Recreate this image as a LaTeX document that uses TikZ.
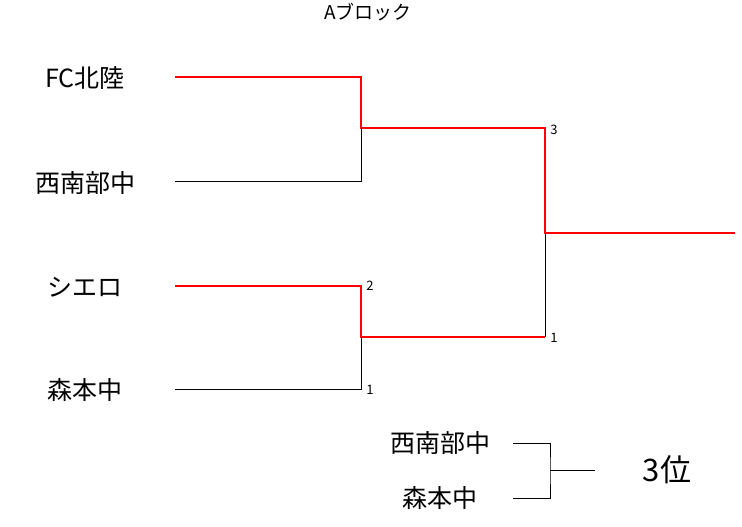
\documentclass[tikz,border=0pt]{standalone}
\usepackage{fontspec}
\setmainfont{Noto Sans CJK JP}
\begin{document}
\begin{tikzpicture}[x=1pt,y=-1pt,thick,
  team/.style={font=\fontsize{25}{27}\selectfont},
  seed/.style={font=\fontsize{13}{14}\selectfont,anchor=west,inner sep=1pt},
  win/.style={red,line width=2.5pt},
  lose/.style={black,line width=0.9pt}]
\useasboundingbox (0,0) rectangle (742,527);

\node (title) at (368,12) {\fontsize{19}{21}\selectfont Aブロック};
\node[team] (t1) at (85,78) {FC北陸};
\node[team] (t2) at (85,183) {西南部中};
\node[team] (t3) at (85,287) {シエロ};
\node[team] (t4) at (85,390) {森本中};

\coordinate (a1) at (175,77);
\coordinate (a2) at (175,181);
\coordinate (a3) at (175,286);
\coordinate (a4) at (175,389);
\coordinate (m1) at (361,128);
\coordinate (m2) at (361,337);
\coordinate (f1) at (545,128);
\coordinate (f2) at (545,337);
\coordinate (c) at (545,233);
\coordinate (w) at (735,233);

\draw[win] (a1) -| (m1) -- (f1) -- (c) -- (w);
\draw[lose] (a2) -| (m1);
\draw[win] (a3) -| (m2) -- (f2);
\draw[lose] (a4) -| (m2);
\draw[lose] (f2) -- (c);

\node[seed] (s3) at (549,130) {3};
\node[seed] (s2) at (365,286) {2};
\node[seed] (s1a) at (365,390) {1};
\node[seed] (s1b) at (549,338) {1};

% 3rd place
\node[team] (b1) at (440,443) {西南部中};
\node[team] (b2) at (440,498) {森本中};
\coordinate (e1) at (513,443);
\coordinate (e2) at (513,498);
\coordinate (v) at (550,470);
\coordinate (v2) at (595,470);
\draw[lose] (e1) -| (v) |- (e2);
\draw[lose] (v) -- (v2);
\node (third) at (667,470) {\fontsize{31}{33}\selectfont 3位};
\end{tikzpicture}
\end{document}
